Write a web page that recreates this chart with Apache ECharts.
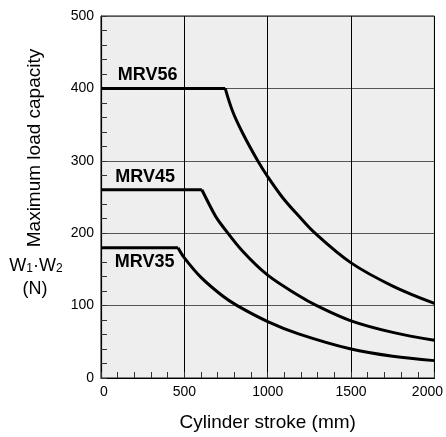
<!DOCTYPE html>
<html>
<head>
<meta charset="utf-8">
<script src="https://cdn.jsdelivr.net/npm/echarts@6/dist/echarts.min.js"></script>
<style>html,body{margin:0;padding:0;background:#fff;}#c{width:446px;height:437px;}</style>
</head>
<body>
<div id="c"></div>
<script>
// ---- data ----
const strokeMRV56 = [0, 745, 790, 850, 940, 1000, 1090, 1185, 1284, 1500, 1750, 2000];
const loadMRV56   = [400, 400, 368, 338, 300, 278, 249, 224, 200, 159, 127, 103];
const strokeMRV45 = [0, 605, 688, 728, 850, 1000, 1185, 1294, 1500, 1750, 2000];
const loadMRV45   = [260, 260, 223, 210, 175, 142, 114, 100, 79, 63, 52];
const strokeMRV35 = [0, 462, 500, 600, 726, 817, 1000, 1185, 1500, 1750, 2000];
const loadMRV35   = [180, 180, 166, 139, 114, 100, 78, 61, 40, 30, 24];
const seriesNames = ['MRV56', 'MRV45', 'MRV35'];
const labelAnchors = [[280, 418], [265, 277], [262, 160]];
const xTicks = [0, 500, 1000, 1500, 2000];
const yTicks = [0, 100, 200, 300, 400, 500];

const FONT = '"Liberation Sans", Arial, Helvetica, sans-serif';
const chart = echarts.init(document.getElementById('c'), null, {renderer: 'canvas'});

function pairs(xs, ys) { return xs.map((x, i) => [x, ys[i]]); }
const sets = [[strokeMRV56, loadMRV56], [strokeMRV45, loadMRV45], [strokeMRV35, loadMRV35]];
const lineStyle = {color: '#000', width: 3};
const series = [];
sets.forEach(([xs, ys], k) => {
  const pts = pairs(xs, ys);
  series.push({type: 'line', name: seriesNames[k] + ' flat', data: pts.slice(0, 2), symbol: 'none', lineStyle, silent: true, z: 5});
  series.push({type: 'line', name: seriesNames[k], data: pts.slice(1), symbol: 'none', smooth: 0.35, lineStyle, silent: true, z: 5});
});
series.push({
  type: 'scatter', symbolSize: 0, silent: true, z: 6,
  itemStyle: {opacity: 1, color: '#000'},
  data: seriesNames.map((n, i) => ({name: n, value: labelAnchors[i]})),
  label: {show: true, position: 'inside', formatter: '{b}', color: '#000', opacity: 1, textBorderWidth: 0, fontSize: 18, fontWeight: 'bold', fontFamily: FONT, align: 'center', verticalAlign: 'middle'},
  emphasis: {disabled: true}
});

const option = {
  animation: false,
  backgroundColor: '#fff',
  grid: {left: 101, right: 9, top: 16, bottom: 53, show: true, backgroundColor: '#eeeeee', borderColor: '#111', borderWidth: 1},
  xAxis: {
    type: 'value', min: xTicks[0], max: xTicks[xTicks.length - 1], interval: 500,
    axisLine: {show: true, onZero: false, lineStyle: {color: '#000', width: 1.2}},
    axisTick: {show: true, inside: true, length: 6, lineStyle: {color: '#333'}},
    minorTick: {show: true, splitNumber: 5, length: 6, lineStyle: {color: '#333'}},
    splitLine: {show: true, lineStyle: {color: '#000', width: 1}},
    axisLabel: {
      margin: 7, color: '#000', fontSize: 14, fontFamily: FONT,
      formatter: v => v === 2000 ? '{m|2000}' : (v === 0 ? '{z|0}' : String(v)),
      rich: {m: {padding: [0, 14, 0, 0], fontSize: 14, fontFamily: FONT, color: '#000'}, z: {padding: [0, 0, 0, 6], fontSize: 14, fontFamily: FONT, color: '#000'}}
    },
    name: 'Cylinder stroke (mm)', nameLocation: 'middle', nameGap: 35,
    nameTextStyle: {fontSize: 19, color: '#000', fontFamily: FONT}
  },
  yAxis: {
    type: 'value', min: yTicks[0], max: yTicks[yTicks.length - 1], interval: 100,
    axisLine: {show: true, onZero: false, lineStyle: {color: '#000', width: 1.2}},
    axisTick: {show: true, inside: true, length: 6, lineStyle: {color: '#333'}},
    minorTick: {show: true, splitNumber: 5, length: 6, lineStyle: {color: '#333'}},
    splitLine: {show: true, lineStyle: {color: '#555', width: 1.2}},
    axisLabel: {margin: 7, color: '#000', fontSize: 14, fontFamily: FONT}
  },
  graphic: [
    {type: 'text', x: 35, y: 148, rotation: Math.PI / 2, style: {text: 'Maximum load capacity', fontSize: 19, fontFamily: FONT, fill: '#000', align: 'center', verticalAlign: 'middle'}},
    {type: 'text', x: 36, y: 266, style: {text: 'W{s|1}·W{s|2}', fontSize: 18, fontFamily: FONT, fill: '#000', align: 'center', verticalAlign: 'middle', rich: {s: {fontSize: 12, fontFamily: FONT, fill: '#000', padding: [6, 0, 0, 0]}}}},
    {type: 'text', x: 35, y: 289, style: {text: '(N)', fontSize: 18, fontFamily: FONT, fill: '#000', align: 'center', verticalAlign: 'middle'}}
  ],
  series
};
chart.setOption(option);
</script>
</body>
</html>
